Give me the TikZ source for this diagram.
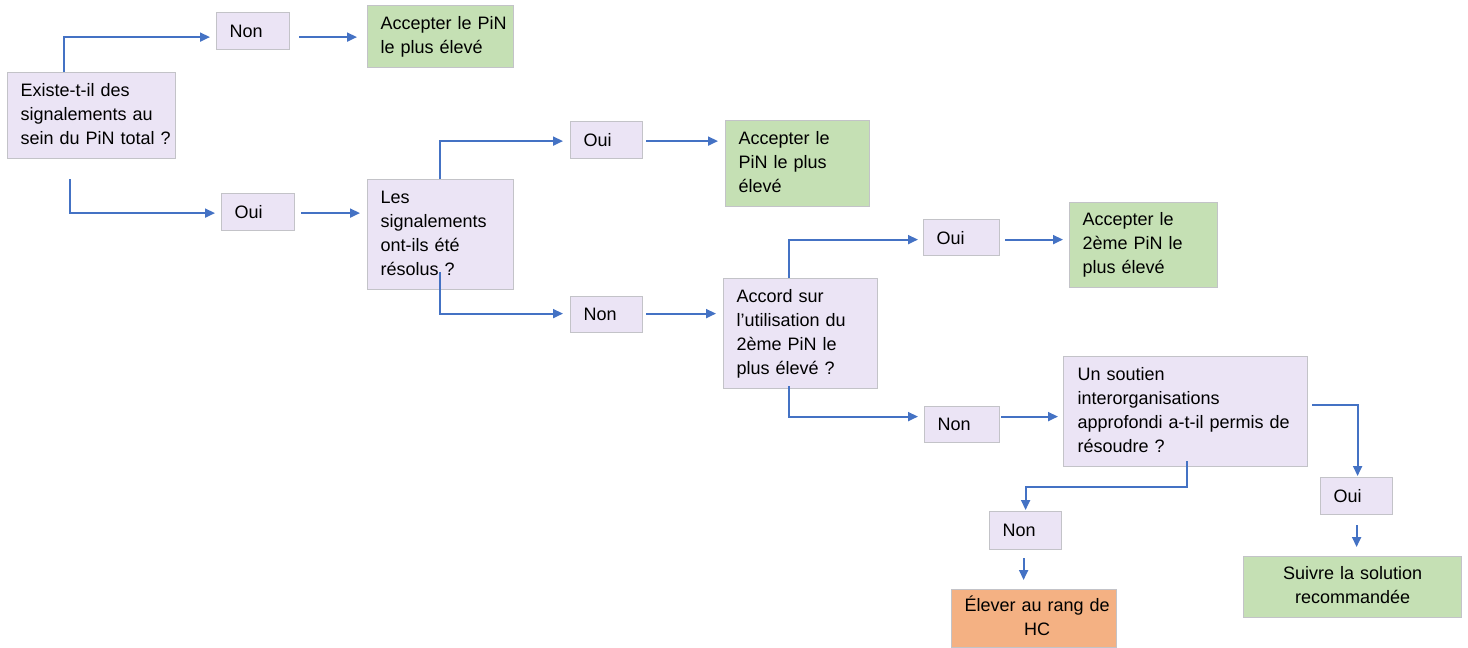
\documentclass[tikz,border=0pt]{standalone}
\usepackage{fontspec}
\setmainfont{Liberation Sans}
\usetikzlibrary{arrows.meta}
\definecolor{lav}{RGB}{235,228,245}
\definecolor{boxline}{RGB}{195,195,200}
\definecolor{okgreen}{RGB}{197,224,180}
\definecolor{hcorange}{RGB}{244,177,131}
\definecolor{flow}{RGB}{68,114,196}
\newcommand{\lns}[1]{\begin{tabular}{@{}l@{}}#1\end{tabular}}
\newcommand{\clns}[1]{\begin{tabular}{@{}c@{}}#1\end{tabular}}
\begin{document}
\begin{tikzpicture}[
		x=0.5pt, y=-0.5pt,
		every node/.style={rectangle, draw=boxline, line width=0.6pt, anchor=north west,
			inner xsep=6.5pt, inner ysep=0pt, align=left, font=\fontsize{9}{12}\selectfont},
		q/.style={fill=lav},
		ok/.style={fill=okgreen},
		arr/.style={draw=flow, line width=0.9pt, -{Triangle[length=5pt,width=4.5pt]}}
	]
  \useasboundingbox (0,0) rectangle (1468,648);
  \node (q1) [q, minimum width=84pt, minimum height=43pt, text width=71pt] at (7,72) {\lns{Existe-t-il des\\signalements au\\sein du PiN total ?}};
  \node (non1) [q, minimum width=36.5pt, minimum height=18.5pt, text width=23.5pt] at (216,12) {Non};
  \node (acc1) [ok, minimum width=73pt, minimum height=31pt, text width=60pt] at (367,5) {\lns{Accepter le PiN\\le plus élevé}};
  \node (oui1) [q, minimum width=36.5pt, minimum height=18.5pt, text width=23.5pt] at (221,193) {Oui};
  \node (q2) [q, minimum width=73pt, minimum height=55pt, text width=60pt] at (367,179) {\lns{Les\\signalements\\ont-ils été\\résolus ?}};
  \node (oui2) [q, minimum width=36pt, minimum height=18.5pt, text width=23pt] at (570,121) {Oui};
  \node (acc2) [ok, minimum width=72pt, minimum height=43pt, text width=59pt] at (725,120) {\lns{Accepter le\\PiN le plus\\élevé}};
  \node (non2) [q, minimum width=36pt, minimum height=18pt, text width=23pt] at (570,296) {Non};
  \node (q3) [q, minimum width=77pt, minimum height=55pt, text width=64pt] at (723,278) {\lns{Accord sur\\l'utilisation du\\2ème PiN le\\plus élevé ?}};
  \node (oui3) [q, minimum width=38pt, minimum height=18pt, text width=25pt] at (923,219) {Oui};
  \node (acc3) [ok, minimum width=74pt, minimum height=42.5pt, text width=61pt] at (1069,202) {\lns{Accepter le\\2ème PiN le\\plus élevé}};
  \node (non3) [q, minimum width=37.5pt, minimum height=18pt, text width=24.5pt] at (924,406) {Non};
  \node (q4) [q, minimum width=122pt, minimum height=55pt, text width=108pt] at (1063,356) {\lns{Un soutien\\interorganisations\\approfondi a-t-il permis de\\résoudre ?}};
  \node (non4) [q, minimum width=36pt, minimum height=19pt, text width=23pt] at (989,511) {Non};
  \node (oui4) [q, minimum width=36pt, minimum height=18.5pt, text width=23pt] at (1320,477) {Oui};
  \node (hc) [fill=hcorange, align=center, minimum width=82.5pt, minimum height=29pt, text width=69.5pt] at (951,589) {\clns{Élever au rang de\\HC}};
  \node (suivre) [ok, align=center, minimum width=109pt, minimum height=30.5pt, text width=96pt] at (1243,556) {\clns{Suivre la solution\\recommandée}};
  \draw [arr] ([xshift=28.5pt]q1.north west) |- ([xshift=-3pt, yshift=-3pt]non1.west);
  \draw [arr] ([xshift=4.5pt, yshift=-3pt]non1.east) -- ([xshift=-5pt, yshift=-3pt]non1.east -| acc1.west);
  \draw [arr] ([xshift=31.5pt, yshift=-10pt]q1.south west) |- ([xshift=-3pt, yshift=-0.5pt]oui1.west);
  \draw [arr] ([xshift=3pt, yshift=-0.5pt]oui1.east) -- ([xshift=-3.5pt, yshift=-0.5pt]oui1.east -| q2.west);
  \draw [arr] ([xshift=36.5pt]q2.north west) |- ([xshift=-3.5pt, yshift=-0.5pt]oui2.west);
  \draw [arr] ([xshift=1.5pt, yshift=-0.5pt]oui2.east) -- ([xshift=-3.5pt, yshift=-0.5pt]oui2.east -| acc2.west);
  \draw [arr] ([xshift=36.5pt, yshift=9pt]q2.south west) |- ([xshift=-3.5pt, yshift=0.5pt]non2.west);
  \draw [arr] ([xshift=1.5pt, yshift=0.5pt]non2.east) -- ([xshift=-3.5pt, yshift=0.5pt]non2.east -| q3.west);
  \draw [arr] ([xshift=33pt]q3.north west) |- ([xshift=-2.5pt, yshift=-1pt]oui3.west);
  \draw [arr] ([xshift=2.5pt, yshift=-1pt]oui3.east) -- ([xshift=-3pt, yshift=-1pt]oui3.east -| acc3.west);
  \draw [arr] ([xshift=33pt, yshift=1.5pt]q3.south west) |- ([xshift=-3pt, yshift=4pt]non3.west);
  \draw [arr] ([xshift=0.5pt, yshift=4pt]non3.east) -- ([xshift=-2.5pt, yshift=4pt]non3.east -| q4.west);
  \draw [arr] ([xshift=62pt, yshift=3pt]q4.south west) |- ([yshift=-10pt]q4.south west -| non4.north) -- ([yshift=0.5pt]non4.north);
  \draw [arr] ([xshift=2pt, yshift=-24.5pt]q4.north east) -| ([xshift=0.5pt, yshift=0.5pt]oui4.north);
  \draw [arr] ([xshift=-1pt, yshift=-4pt]non4.south) -- ([xshift=-1pt, yshift=4.5pt]hc.north -| non4.south);
  \draw [arr] ([yshift=-5pt]oui4.south) -- ([yshift=4.5pt]suivre.north -| oui4.south);
\end{tikzpicture}
\end{document}
